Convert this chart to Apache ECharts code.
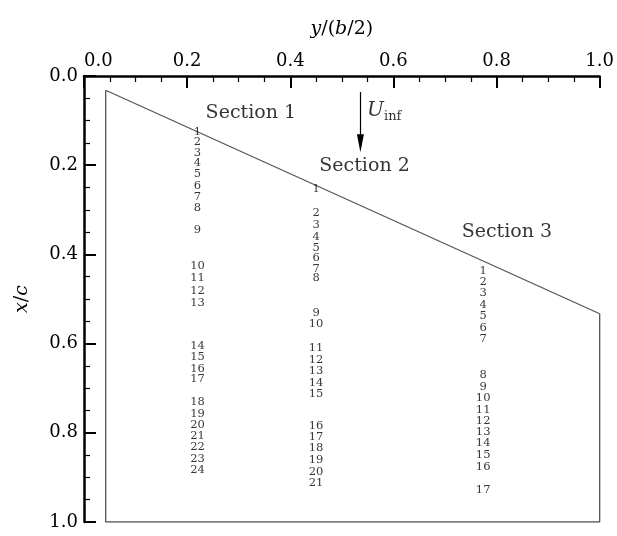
<!DOCTYPE html>
<html>
<head>
<meta charset="utf-8">
<script src="https://cdn.jsdelivr.net/npm/echarts@6/dist/echarts.min.js"></script>
<style>html,body{margin:0;padding:0;background:#fff}#c{width:617px;height:536px}</style>
</head>
<body>
<div id="c"></div>
<script>
// spanwise positions of the three sections, y/(b/2)
const sectionSpan = [0.22, 0.45, 0.774];
// chordwise positions x/c of the numbered points in each section
const sec1 = [0.125,0.148,0.172,0.196,0.220,0.247,0.271,0.297,0.346,0.426,0.454,0.481,0.509,0.605,0.631,0.656,0.680,0.731,0.757,0.783,0.808,0.832,0.858,0.884];
const sec2 = [0.254,0.307,0.335,0.361,0.385,0.409,0.432,0.454,0.531,0.556,0.609,0.636,0.661,0.688,0.712,0.785,0.809,0.835,0.861,0.888,0.912];
const sec3 = [0.437,0.462,0.486,0.514,0.539,0.564,0.589,0.671,0.697,0.723,0.749,0.774,0.799,0.824,0.850,0.876,0.929];
// wing planform outline [y/(b/2), x/c]
const outline = [[0.042,0.032],[1.0,0.533],[1.0,1.0],[0.042,1.0],[0.042,0.032]];
// section titles
const titleText = ['Section 1','Section 2','Section 3'];
const titleX = [0.3235, 0.544, 0.820];
const titleY = [0.083, 0.202, 0.350];
// free-stream arrow
const arrowX = 0.536, arrowY0 = 0.036, arrowY1 = 0.151;
const uLabelPos = [0.549, 0.077];

const FONT = 'DejaVu Serif';
const sections = [sec1, sec2, sec3];
const pointSeries = sections.map((arr, s) => ({
  type: 'scatter',
  symbolSize: 0,
  silent: true,
  data: arr.map((v, i) => [sectionSpan[s], v, i + 1]),
  label: {
    show: true, position: 'inside',
    formatter: p => String(p.value[2]),
    fontFamily: FONT, fontSize: 11.5, color: '#000'
  },
  z: 5
}));

const option = {
  animation: false,
  backgroundColor: '#fff',
  grid: { left: 84, right: 9, top: 76, bottom: 14 },
  xAxis: {
    type: 'value', position: 'top', min: 0, max: 1.0, interval: 0.2,
    name: '{i|y}/({i|b}/2)', nameLocation: 'middle', nameGap: 37,
    nameTextStyle: { fontFamily: FONT, fontSize: 19, color: '#000',
      rich: { i: { fontFamily: FONT, fontStyle: 'italic', fontSize: 19, color: '#000' } } },
    axisLine: { show: true, lineStyle: { color: '#000', width: 2.5 } },
    axisTick: { show: true, inside: true, length: 12, lineStyle: { color: '#000', width: 2 } },
    minorTick: { show: true, splitNumber: 4, length: 6, lineStyle: { color: '#000', width: 1.2 } },
    axisLabel: { fontFamily: FONT, fontSize: 18, color: '#000', margin: 6, alignMinLabel: 'left',
      formatter: v => v.toFixed(1) },
    splitLine: { show: false }
  },
  yAxis: {
    type: 'value', inverse: true, min: 0, max: 1.0, interval: 0.2,
    name: '{i|x}/{i|c}', nameLocation: 'middle', nameGap: 52, nameRotate: 90,
    nameTextStyle: { fontFamily: FONT, fontSize: 19, color: '#000',
      rich: { i: { fontFamily: FONT, fontStyle: 'italic', fontSize: 19, color: '#000' } } },
    axisLine: { show: true, lineStyle: { color: '#000', width: 2.5 } },
    axisTick: { show: true, inside: true, length: 12, lineStyle: { color: '#000', width: 2 } },
    minorTick: { show: true, splitNumber: 4, length: 6, lineStyle: { color: '#000', width: 1.2 } },
    axisLabel: { fontFamily: FONT, fontSize: 18, color: '#000', margin: 6,
      formatter: v => v.toFixed(1) },
    splitLine: { show: false }
  },
  series: [
    {
      type: 'line', data: outline, symbol: 'none', silent: true,
      lineStyle: { color: '#555', width: 1.3 }, z: 3,
      markLine: {
        silent: true, symbol: ['none', 'triangle'], symbolSize: [7, 18],
        label: { show: false },
        lineStyle: { color: '#000', width: 1.2, type: 'solid' },
        data: [[{ coord: [arrowX, arrowY0] }, { coord: [arrowX, arrowY1] }]]
      }
    },
    ...pointSeries,
    {
      type: 'scatter', symbolSize: 0, silent: true,
      data: titleText.map((t, i) => [titleX[i], titleY[i], t]),
      label: { show: true, position: 'inside', formatter: p => p.value[2],
        fontFamily: FONT, fontSize: 19, color: '#000' }
    },
    {
      type: 'scatter', symbolSize: 0, silent: true,
      data: [[uLabelPos[0], uLabelPos[1]]],
      label: { show: true, position: 'right', distance: 0,
        formatter: '{u|U}{s|inf}',
        rich: {
          u: { fontFamily: FONT, fontStyle: 'italic', fontSize: 20, color: '#000' },
          s: { fontFamily: FONT, fontSize: 13, color: '#000', padding: [12, 0, 0, 0] }
        } }
    }
  ]
};
echarts.init(document.getElementById('c'), null, { renderer: 'canvas' }).setOption(option);
</script>
</body>
</html>
